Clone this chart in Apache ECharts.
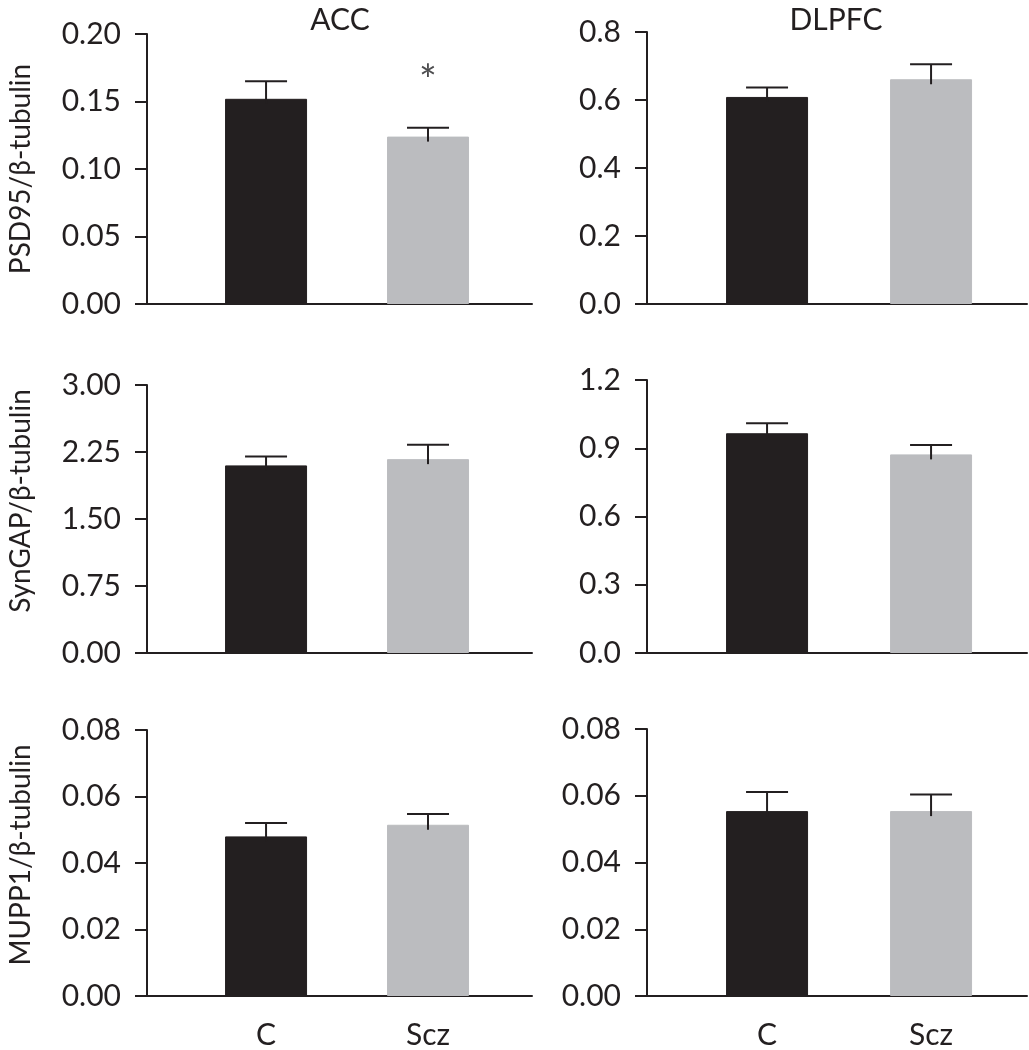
<!DOCTYPE html>
<html>
<head>
<meta charset="utf-8">
<script src="https://cdn.jsdelivr.net/npm/echarts@6/dist/echarts.min.js"></script>
<style>html,body{margin:0;padding:0;background:#fff}#c{width:1029px;height:1050px}</style>
</head>
<body>
<div id="c"></div>
<script>
// ---- data ----
const categories = ['C', 'Scz'];
const regions = ['ACC', 'DLPFC'];
const yTitles = ['PSD95/β-tubulin', 'SynGAP/β-tubulin', 'MUPP1/β-tubulin'];

const accPsd95 = [0.152, 0.124];
const accPsd95Err = [0.013, 0.0066];
const accPsd95Sig = ['', '*'];
const dlpfcPsd95 = [0.609, 0.661];
const dlpfcPsd95Err = [0.028, 0.044];
const dlpfcPsd95Sig = ['', ''];

const accSyngap = [2.10, 2.17];
const accSyngapErr = [0.10, 0.16];
const accSyngapSig = ['', ''];
const dlpfcSyngap = [0.966, 0.873];
const dlpfcSyngapErr = [0.044, 0.041];
const dlpfcSyngapSig = ['', ''];

const accMupp1 = [0.048, 0.0515];
const accMupp1Err = [0.004, 0.0032];
const accMupp1Sig = ['', ''];
const dlpfcMupp1 = [0.0554, 0.0554];
const dlpfcMupp1Err = [0.0057, 0.005];
const dlpfcMupp1Sig = ['', ''];

const ticksPsdAcc = ['0.00', '0.05', '0.10', '0.15', '0.20'];
const ticksPsdDl = ['0.0', '0.2', '0.4', '0.6', '0.8'];
const ticksSynAcc = ['0.00', '0.75', '1.50', '2.25', '3.00'];
const ticksSynDl = ['0.0', '0.3', '0.6', '0.9', '1.2'];
const ticksMuppAcc = ['0.00', '0.02', '0.04', '0.06', '0.08'];
const ticksMuppDl = ['0.00', '0.02', '0.04', '0.06', '0.08'];

// ---- layout ----
const INK = '#231f20';
const barColors = ['#231f20', '#bbbcbf'];
const FONT = 'Lato';

const panels = [
  {vals: accPsd95, err: accPsd95Err, sig: accPsd95Sig, ticks: ticksPsdAcc, col: 0, row: 0, top: 34, h: 270},
  {vals: dlpfcPsd95, err: dlpfcPsd95Err, sig: dlpfcPsd95Sig, ticks: ticksPsdDl, col: 1, row: 0, top: 32, h: 272},
  {vals: accSyngap, err: accSyngapErr, sig: accSyngapSig, ticks: ticksSynAcc, col: 0, row: 1, top: 385, h: 268},
  {vals: dlpfcSyngap, err: dlpfcSyngapErr, sig: dlpfcSyngapSig, ticks: ticksSynDl, col: 1, row: 1, top: 380, h: 273},
  {vals: accMupp1, err: accMupp1Err, sig: accMupp1Sig, ticks: ticksMuppAcc, col: 0, row: 2, top: 730, h: 267},
  {vals: dlpfcMupp1, err: dlpfcMupp1Err, sig: dlpfcMupp1Sig, ticks: ticksMuppDl, col: 1, row: 2, top: 729, h: 268}
];
const colLayout = [
  {left: 147, width: 385, min: -0.735, max: 1.642},
  {left: 647, width: 380, min: -0.732, max: 1.585}
];
const namePad = [[0, 0, 0, 0], [0, 0, 0, 36], [0, 0, 0, 16]];

const grids = [], xAxes = [], yAxes = [], series = [];
panels.forEach((p, k) => {
  const cl = colLayout[p.col];
  grids.push({left: cl.left, top: p.top, width: cl.width, height: p.h, containLabel: false});
  const bottomRow = p.row === 2;
  xAxes.push({
    type: 'value', gridIndex: k, min: cl.min, max: cl.max,
    axisLine: {show: true, onZero: false, lineStyle: {color: INK, width: 2}},
    axisTick: {show: false}, splitLine: {show: false},
    axisLabel: bottomRow ? {
      show: true, customValues: [0, 1], formatter: v => categories[Math.round(v)] || '',
      fontFamily: FONT, fontSize: 30, color: INK, margin: 24
    } : {show: false}
  });
  const ymax = parseFloat(p.ticks[p.ticks.length - 1]);
  yAxes.push({
    type: 'value', gridIndex: k, min: 0, max: ymax, interval: ymax / (p.ticks.length - 1),
    axisLine: {show: true, onZero: false, lineStyle: {color: INK, width: 2}},
    axisTick: {show: true, length: 12, lineStyle: {color: INK, width: 2}},
    splitLine: {show: false},
    axisLabel: {fontFamily: FONT, fontSize: 30, color: INK, margin: 26,
      formatter: (v) => p.ticks[Math.round(v / (ymax / (p.ticks.length - 1)))]},
    name: p.col === 0 ? yTitles[p.row] : '',
    nameLocation: 'middle', nameGap: 112,
    nameTextStyle: {fontFamily: FONT, fontSize: 28, color: INK, padding: namePad[p.row]}
  });
  series.push({
    type: 'bar', xAxisIndex: k, yAxisIndex: k, barWidth: 82,
    data: p.vals.map((v, i) => ({value: [i, v], itemStyle: {color: barColors[i], borderColor: i === 0 ? INK : barColors[i], borderWidth: 1}})),
    silent: true, animation: false
  });
  series.push({
    type: 'custom', xAxisIndex: k, yAxisIndex: k, z: 5, animation: false, silent: true,
    data: p.vals.map((v, i) => [i, v, p.err[i]]),
    renderItem: (params, api) => {
      const x = api.value(0), y = api.value(1), e = api.value(2);
      const b = api.coord([x, y]);
      const t = api.coord([x, y + e]);
      const children = [
        {type: 'line', shape: {x1: t[0], y1: b[1] + 5, x2: t[0], y2: t[1]}, style: {stroke: INK, lineWidth: 2}},
        {type: 'line', shape: {x1: t[0] - 21, y1: t[1], x2: t[0] + 21, y2: t[1]}, style: {stroke: INK, lineWidth: 2}}
      ];
      const s = p.sig[params.dataIndex];
      if (s) {
        children.push({type: 'text', x: t[0], y: t[1] - 46,
          style: {text: s, fontFamily: FONT, fontSize: 42, fill: '#4d4d4f', align: 'center', verticalAlign: 'middle'}});
      }
      return {type: 'group', children};
    }
  });
});

const chart = echarts.init(document.getElementById('c'), null, {renderer: 'canvas'});
chart.setOption({
  animation: false,
  backgroundColor: '#fff',
  title: [
    {text: regions[0], left: 335, top: 0, textAlign: 'center', textStyle: {fontFamily: FONT, fontSize: 30, fontWeight: 'normal', color: INK}},
    {text: regions[1], left: 831, top: 0, textAlign: 'center', textStyle: {fontFamily: FONT, fontSize: 30, fontWeight: 'normal', color: INK}}
  ],
  grid: grids, xAxis: xAxes, yAxis: yAxes, series
});
</script>
</body>
</html>
